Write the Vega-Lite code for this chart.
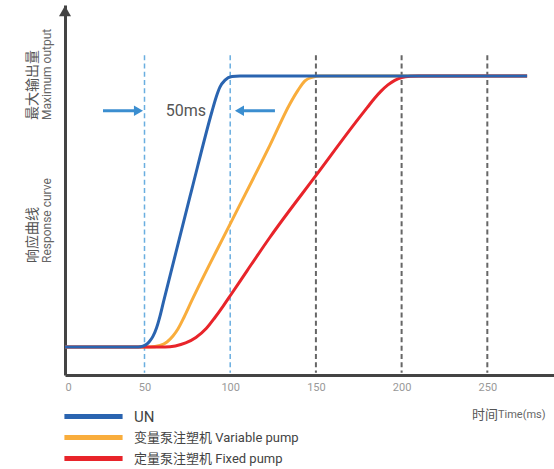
{
  "$schema": "https://vega.github.io/schema/vega-lite/v6.json",
  "autosize": "none",
  "padding": {"left": 65, "top": 5, "right": 0, "bottom": 94},
  "width": 489,
  "height": 370,
  "config": {"view": {"stroke": null}, "font": "Roboto, Noto Sans CJK SC"},
  "datasets": {
    "curves": [
      {"series": "变量泵注塑机 Variable pump", "t": 0, "v": 0},
      {"series": "变量泵注塑机 Variable pump", "t": 53.2, "v": 0},
      {"series": "变量泵注塑机 Variable pump", "t": 59, "v": 0.55},
      {"series": "变量泵注塑机 Variable pump", "t": 63.1, "v": 1.85},
      {"series": "变量泵注塑机 Variable pump", "t": 66.6, "v": 4.06},
      {"series": "变量泵注塑机 Variable pump", "t": 69.5, "v": 6.64},
      {"series": "变量泵注塑机 Variable pump", "t": 73, "v": 10.9},
      {"series": "变量泵注塑机 Variable pump", "t": 77.5, "v": 17.0},
      {"series": "变量泵注塑机 Variable pump", "t": 100.3, "v": 45.8},
      {"series": "变量泵注塑机 Variable pump", "t": 123.2, "v": 74.5},
      {"series": "变量泵注塑机 Variable pump", "t": 134.8, "v": 89.7},
      {"series": "变量泵注塑机 Variable pump", "t": 139.6, "v": 94.8},
      {"series": "变量泵注塑机 Variable pump", "t": 143.6, "v": 98.2},
      {"series": "变量泵注塑机 Variable pump", "t": 148.3, "v": 99.6},
      {"series": "变量泵注塑机 Variable pump", "t": 152.4, "v": 100},
      {"series": "变量泵注塑机 Variable pump", "t": 273.2, "v": 100},
      {"series": "定量泵注塑机 Fixed pump", "t": 0, "v": 0},
      {"series": "定量泵注塑机 Fixed pump", "t": 62, "v": 0},
      {"series": "定量泵注塑机 Fixed pump", "t": 68, "v": 0.4},
      {"series": "定量泵注塑机 Fixed pump", "t": 74, "v": 1.5},
      {"series": "定量泵注塑机 Fixed pump", "t": 80, "v": 3.5},
      {"series": "定量泵注塑机 Fixed pump", "t": 86, "v": 6.8},
      {"series": "定量泵注塑机 Fixed pump", "t": 91, "v": 10.8},
      {"series": "定量泵注塑机 Fixed pump", "t": 96, "v": 15.2},
      {"series": "定量泵注塑机 Fixed pump", "t": 100.3, "v": 19.2},
      {"series": "定量泵注塑机 Fixed pump", "t": 110, "v": 28.3},
      {"series": "定量泵注塑机 Fixed pump", "t": 123.2, "v": 40.5},
      {"series": "定量泵注塑机 Fixed pump", "t": 150.5, "v": 63.7},
      {"series": "定量泵注塑机 Fixed pump", "t": 176, "v": 85.2},
      {"series": "定量泵注塑机 Fixed pump", "t": 180, "v": 88.4},
      {"series": "定量泵注塑机 Fixed pump", "t": 184, "v": 91.6},
      {"series": "定量泵注塑机 Fixed pump", "t": 188, "v": 94.4},
      {"series": "定量泵注塑机 Fixed pump", "t": 192, "v": 96.7},
      {"series": "定量泵注塑机 Fixed pump", "t": 196, "v": 98.4},
      {"series": "定量泵注塑机 Fixed pump", "t": 200, "v": 99.4},
      {"series": "定量泵注塑机 Fixed pump", "t": 205, "v": 99.9},
      {"series": "定量泵注塑机 Fixed pump", "t": 210, "v": 100},
      {"series": "定量泵注塑机 Fixed pump", "t": 273.2, "v": 100},
      {"series": "UN", "t": 0, "v": 0},
      {"series": "UN", "t": 46, "v": 0},
      {"series": "UN", "t": 49, "v": 0.3},
      {"series": "UN", "t": 51, "v": 0.9},
      {"series": "UN", "t": 53, "v": 2.1},
      {"series": "UN", "t": 55, "v": 4.0},
      {"series": "UN", "t": 57, "v": 7.0},
      {"series": "UN", "t": 59, "v": 11.3},
      {"series": "UN", "t": 61, "v": 16.5},
      {"series": "UN", "t": 77.5, "v": 57.9},
      {"series": "UN", "t": 89.4, "v": 87.0},
      {"series": "UN", "t": 91.7, "v": 92.0},
      {"series": "UN", "t": 94, "v": 95.9},
      {"series": "UN", "t": 97, "v": 98.5},
      {"series": "UN", "t": 101, "v": 99.8},
      {"series": "UN", "t": 105.7, "v": 100},
      {"series": "UN", "t": 273.2, "v": 100}
    ]
  },
  "layer": [
    {
      "data": {"values": [{"t": 50}, {"t": 100}]},
      "mark": {"type": "rule", "color": "#6aaee0", "strokeWidth": 1.5, "strokeDash": [5, 3.3]},
      "encoding": {
        "x": {"field": "t", "type": "quantitative", "scale": {"domain": [0, 50, 288.9], "range": [0, 79.5, 489], "nice": false, "zero": false},
              "axis": {"values": [0, 50, 100, 150, 200, 250], "ticks": false, "grid": false, "domainColor": "#444", "domainWidth": 3, "labelColor": "#999", "labelFontSize": 11, "labelPadding": 6, "title": null}},
        "y": {"datum": 107.7, "type": "quantitative", "scale": {"domain": [-10.33, 126.2], "nice": false, "zero": false},
              "axis": {"labels": false, "ticks": false, "grid": false, "title": null, "domainColor": "#444", "domainWidth": 3}},
        "y2": {"datum": -9.5}
      }
    },
    {
      "data": {"values": [{"t": 150}, {"t": 200}, {"t": 250}]},
      "mark": {"type": "rule", "color": "#666666", "strokeWidth": 2, "strokeDash": [5, 3.3]},
      "encoding": {
        "x": {"field": "t", "type": "quantitative"},
        "y": {"datum": 107.7, "type": "quantitative"},
        "y2": {"datum": -9.5}
      }
    },
    {
      "data": {"name": "curves"},
      "mark": {"type": "line", "strokeWidth": 3, "interpolate": "monotone"},
      "encoding": {
        "x": {"field": "t", "type": "quantitative"},
        "y": {"field": "v", "type": "quantitative"},
        "color": {
          "field": "series", "type": "nominal",
          "scale": {"domain": ["UN", "变量泵注塑机 Variable pump", "定量泵注塑机 Fixed pump"], "range": ["#2a64b0", "#f9ad3c", "#e8242a"]},
          "legend": {"orient": "none", "legendX": 21, "legendY": 404, "title": null, "symbolType": "M-6,0H6", "symbolSize": 94, "symbolStrokeWidth": 5, "labelOffset": 33, "labelFontSize": 13, "labelColor": "#444", "labelLimit": 400, "rowPadding": 0,
                     "encode": {"labels": {"update": {"fontSize": {"signal": "datum.label === 'UN' ? 15 : 13"}}}}}
        }
      }
    },
    {
      "data": {"values": [{}]},
      "mark": {"type": "point", "shape": "triangle-up", "size": 144, "filled": true, "color": "#444", "opacity": 1},
      "encoding": {"x": {"datum": 0, "type": "quantitative"}, "y": {"datum": 124, "type": "quantitative"}}
    },
    {
      "data": {"values": [{}]},
      "mark": {"type": "rule", "color": "#3b8ed0", "strokeWidth": 3},
      "encoding": {"x": {"datum": 23.9, "type": "quantitative"}, "x2": {"datum": 45}, "y": {"datum": 87.2, "type": "quantitative"}}
    },
    {
      "data": {"values": [{}]},
      "mark": {"type": "rule", "color": "#3b8ed0", "strokeWidth": 3},
      "encoding": {"x": {"datum": 106.5, "type": "quantitative"}, "x2": {"datum": 126.1}, "y": {"datum": 87.2, "type": "quantitative"}}
    },
    {
      "data": {"values": [{}]},
      "mark": {"type": "point", "shape": "triangle-right", "size": 110, "filled": true, "color": "#3b8ed0", "opacity": 1},
      "encoding": {"x": {"datum": 46.2, "type": "quantitative"}, "y": {"datum": 87.2, "type": "quantitative"}}
    },
    {
      "data": {"values": [{}]},
      "mark": {"type": "point", "shape": "triangle-left", "size": 110, "filled": true, "color": "#3b8ed0", "opacity": 1},
      "encoding": {"x": {"datum": 105.4, "type": "quantitative"}, "y": {"datum": 87.2, "type": "quantitative"}}
    },
    {
      "data": {"values": [{}]},
      "mark": {"type": "text", "text": "50ms", "fontSize": 16, "color": "#555", "align": "center", "baseline": "middle"},
      "encoding": {"x": {"datum": 74.2, "type": "quantitative"}, "y": {"datum": 87.2, "type": "quantitative"}}
    },
    {
      "data": {"values": [{}]},
      "mark": {"type": "text", "text": "最大输出量", "fontSize": 14, "color": "#555", "angle": 270, "align": "left", "baseline": "middle"},
      "encoding": {"x": {"datum": -20.1, "type": "quantitative"}, "y": {"datum": 83.8, "type": "quantitative"}}
    },
    {
      "data": {"values": [{}]},
      "mark": {"type": "text", "text": "Maximum output", "fontSize": 12, "color": "#666", "angle": 270, "align": "left", "baseline": "middle"},
      "encoding": {"x": {"datum": -11.3, "type": "quantitative"}, "y": {"datum": 83.8, "type": "quantitative"}}
    },
    {
      "data": {"values": [{}]},
      "mark": {"type": "text", "text": "响应曲线", "fontSize": 14, "color": "#555", "angle": 270, "align": "left", "baseline": "middle"},
      "encoding": {"x": {"datum": -20.1, "type": "quantitative"}, "y": {"datum": 31.0, "type": "quantitative"}}
    },
    {
      "data": {"values": [{}]},
      "mark": {"type": "text", "text": "Response curve", "fontSize": 12, "color": "#666", "angle": 270, "align": "left", "baseline": "middle"},
      "encoding": {"x": {"datum": -11.3, "type": "quantitative"}, "y": {"datum": 31.0, "type": "quantitative"}}
    },
    {
      "data": {"values": [{}]},
      "mark": {"type": "text", "text": "时间", "fontSize": 13, "color": "#555", "align": "right", "baseline": "middle"},
      "encoding": {"x": {"datum": 256.2, "type": "quantitative"}, "y": {"datum": -25.1, "type": "quantitative"}}
    },
    {
      "data": {"values": [{}]},
      "mark": {"type": "text", "text": "Time(ms)", "fontSize": 11, "color": "#666", "align": "left", "baseline": "middle"},
      "encoding": {"x": {"datum": 256.2, "type": "quantitative"}, "y": {"datum": -25.1, "type": "quantitative"}}
    }
  ]
}
